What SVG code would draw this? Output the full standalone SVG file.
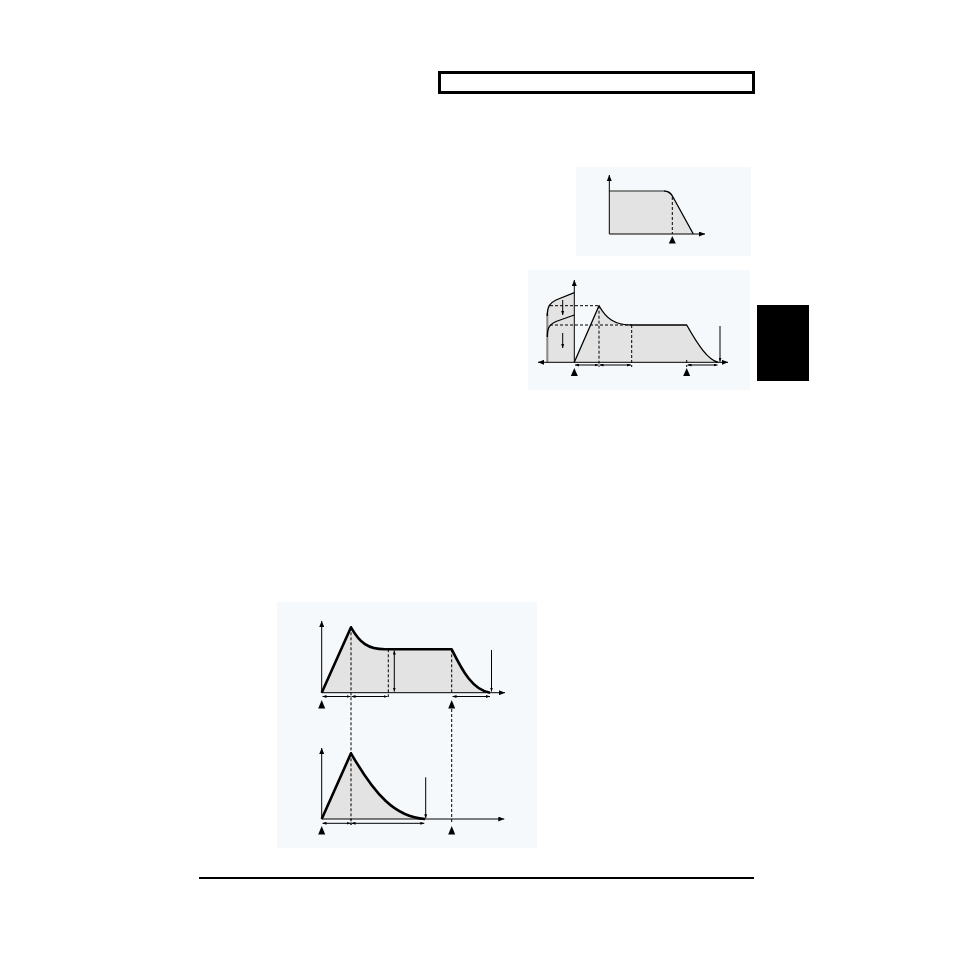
<svg xmlns="http://www.w3.org/2000/svg" width="954" height="954" viewBox="0 0 954 954">
<defs>
<marker id="ah" markerWidth="6" markerHeight="5" refX="6" refY="2.5" orient="auto-start-reverse" markerUnits="userSpaceOnUse">
<path d="M0,0 L6,2.5 L0,5 Z" fill="#000"/>
</marker>
<marker id="sh" markerWidth="4" markerHeight="3" refX="4" refY="1.5" orient="auto-start-reverse" markerUnits="userSpaceOnUse">
<path d="M0,0 L4,1.5 L0,3 Z" fill="#000"/>
</marker>
</defs>
<style>
.panel{fill:#f6f9fc;stroke:none}
.ax{stroke:#000;stroke-width:1;fill:none}
.shade{fill:#e3e3e3;stroke:none}
.env{stroke:#000;stroke-width:1.3;fill:none;stroke-linejoin:round}
.envb{stroke:#000;stroke-width:2.6;fill:none;stroke-linejoin:round}
.dash{stroke:#000;stroke-width:1;stroke-dasharray:3,2;fill:none}
.tick{fill:#000}
</style>
<rect width="954" height="954" fill="#fff"/>

<g id="header">
<rect x="439.5" y="72.5" width="314" height="20" fill="#fff" stroke="#000" stroke-width="3"/>
</g>
<g id="tab">
<rect x="757" y="305" width="52" height="76" fill="#000"/>
</g>
<g id="footer">
<rect x="199" y="877" width="555" height="2" fill="#000"/>
</g>

<g id="filter-diagram">
<rect class="panel" x="576" y="167" width="175" height="89"/>
<path class="shade" d="M609.3,234 L609.3,191 L664,191 Q670,191 673,197 L693.3,234 Z"/>
<path d="M609.3,191 L664,191" stroke="#666" stroke-width="1.6" fill="none"/>
<path class="env" d="M664,191 Q670,191 673,197 L693.3,234"/>
<line class="dash" x1="672.3" y1="197" x2="672.3" y2="234"/>
<line class="ax" x1="609.3" y1="234" x2="609.3" y2="175" marker-end="url(#ah)"/>
<line class="ax" x1="609.3" y1="234" x2="705" y2="234" marker-end="url(#ah)"/>
<polygon class="tick" points="672.3,236 668.8,243.5 675.8,243.5"/>
</g>

<g id="envelope-diagram">
<rect class="panel" x="528" y="270" width="222" height="120"/>
<path class="shade" d="M547.3,362.3 L547.3,316 C547.3,306 550,303 556,300 L574.3,292.7 L574.3,362.3 Z"/>
<path class="shade" d="M574.3,362.3 L599,305.7 C606,318 614,325 631.7,325 L686.7,325 C698,345 708,360 718.3,362.3 Z"/>
<line x1="547.3" y1="313" x2="547.3" y2="362.3" stroke="#888" stroke-width="2"/>
<path class="env" d="M547.3,316 C547.3,306 550,303 556,300 L574.3,292.7"/>
<path class="env" d="M547.3,337 C547.3,327 550,324 556,321.5 L574.3,315"/>
<line class="ax" x1="562.7" y1="300" x2="562.7" y2="315" marker-end="url(#sh)"/>
<line class="ax" x1="562.7" y1="333" x2="562.7" y2="348" marker-end="url(#sh)"/>
<line class="dash" x1="550" y1="305.7" x2="599" y2="305.7"/>
<line class="dash" x1="550" y1="325" x2="631.7" y2="325"/>
<line class="dash" x1="599" y1="305.7" x2="599" y2="367"/>
<line class="dash" x1="631.7" y1="325" x2="631.7" y2="367"/>
<line class="dash" x1="686.7" y1="360" x2="686.7" y2="367"/>
<path class="env" d="M574.3,362.3 L599,305.7 C606,318 614,325 631.7,325 L686.7,325 C698,345 708,360 718.3,362.3"/>
<line class="ax" x1="720" y1="326" x2="720" y2="361.7" marker-end="url(#sh)"/>
<line class="ax" x1="574.3" y1="362.3" x2="574.3" y2="280" marker-end="url(#ah)"/>
<line class="ax" x1="538" y1="362.3" x2="728" y2="362.3" marker-start="url(#ah)" marker-end="url(#ah)"/>
<line class="ax" x1="575" y1="365" x2="598.5" y2="365" marker-start="url(#sh)" marker-end="url(#sh)"/>
<line class="ax" x1="599.5" y1="365" x2="631" y2="365" marker-start="url(#sh)" marker-end="url(#sh)"/>
<line class="ax" x1="687.5" y1="365" x2="717.5" y2="365" marker-start="url(#sh)" marker-end="url(#sh)"/>
<polygon class="tick" points="574.3,368 570.8,376 577.8,376"/>
<polygon class="tick" points="686.7,368 683.2,376 690.2,376"/>
</g>

<g id="adsr-comparison">
<rect class="panel" x="277" y="602" width="260" height="246"/>
<g id="adsr-top">
<path class="shade" d="M321.7,692.7 L351,627.3 C360,643 368,649.3 385,649.3 L451.7,649.3 C463,672 473,690 490,692.7 Z"/>
<line class="dash" x1="388.3" y1="649.3" x2="388.3" y2="697"/>
<line class="dash" x1="451.7" y1="649.3" x2="451.7" y2="692.7"/>
<line class="ax" x1="394.3" y1="650.5" x2="394.3" y2="691.5" marker-start="url(#sh)" marker-end="url(#sh)"/>
<path class="envb" d="M321.7,692.7 L351,627.3 C360,643 368,649.3 385,649.3 L451.7,649.3 C463,672 473,690 490,692.7"/>
<line class="ax" x1="491.5" y1="650" x2="491.5" y2="691.5" marker-end="url(#sh)"/>
<line class="ax" x1="321.7" y1="692.7" x2="321.7" y2="621" marker-end="url(#ah)"/>
<line class="ax" x1="321.7" y1="692.7" x2="505" y2="692.7" marker-end="url(#ah)"/>
<line class="ax" x1="322.5" y1="696.5" x2="350.5" y2="696.5" marker-start="url(#sh)" marker-end="url(#sh)"/>
<line class="ax" x1="351.5" y1="696.5" x2="387.5" y2="696.5" marker-start="url(#sh)" marker-end="url(#sh)"/>
<line class="ax" x1="452.5" y1="696.5" x2="490" y2="696.5" marker-start="url(#sh)" marker-end="url(#sh)"/>
<polygon class="tick" points="321.7,700 318.2,708.5 325.2,708.5"/>
<polygon class="tick" points="451.7,700 448.2,708.5 455.2,708.5"/>
</g>
<g id="link-lines">
<line class="dash" x1="351" y1="627.3" x2="351" y2="825"/>
<line class="dash" x1="451.7" y1="709" x2="451.7" y2="824"/>
</g>
<g id="ad-bottom">
<path class="shade" d="M321.7,819 L351,753.3 C375,795 395,817 425,819 Z"/>
<line class="dash" x1="351" y1="753.3" x2="351" y2="825"/>
<path class="envb" d="M321.7,819 L351,753.3 C375,795 395,817 425,819"/>
<line class="ax" x1="425.7" y1="777.3" x2="425.7" y2="818.3" marker-end="url(#sh)"/>
<line class="ax" x1="321.7" y1="819" x2="321.7" y2="748" marker-end="url(#ah)"/>
<line class="ax" x1="321.7" y1="819" x2="504.3" y2="819" marker-end="url(#ah)"/>
<line class="ax" x1="322.5" y1="823.3" x2="350.5" y2="823.3" marker-start="url(#sh)" marker-end="url(#sh)"/>
<line class="ax" x1="351.5" y1="823.3" x2="424.3" y2="823.3" marker-start="url(#sh)" marker-end="url(#sh)"/>
<polygon class="tick" points="321.7,826 318.2,834.5 325.2,834.5"/>
<polygon class="tick" points="451.7,826 448.2,834.5 455.2,834.5"/>
</g>
</g>
</svg>
